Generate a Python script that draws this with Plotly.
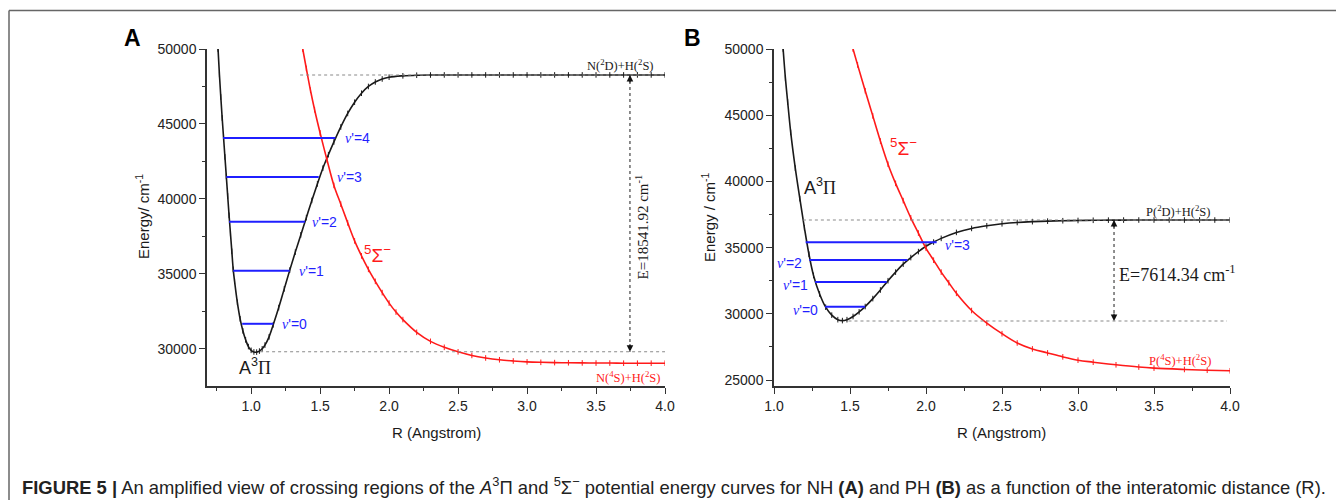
import plotly.graph_objects as go

# ---------------- Panel A (NH) ----------------
A_R_pi = [0.76, 0.77, 0.78, 0.79, 0.80, 0.81, 0.82, 0.83, 0.84, 0.85, 0.86, 0.87, 0.88, 0.90, 0.92,
          0.94, 0.96, 0.98, 1.00, 1.02, 1.04, 1.06, 1.08, 1.10, 1.13, 1.16, 1.20, 1.24, 1.28, 1.32,
          1.36, 1.40, 1.44, 1.48, 1.52, 1.56, 1.60, 1.65, 1.70, 1.75, 1.80, 1.85, 1.90, 1.95, 2.00,
          2.10, 2.20, 2.30, 2.40, 2.50, 2.60, 2.70, 2.80, 2.90, 3.00, 3.10, 3.20, 3.30, 3.40, 3.50,
          3.60, 3.70, 3.80, 3.90, 4.00]
A_E_pi = [50000, 48300, 46800, 45400, 44100, 42800, 41500, 40200, 38900, 37700, 36500, 35300, 34500, 33100, 32000,
          31200, 30600, 30150, 29900, 29790, 29780, 29850, 30000, 30250, 30800, 31600, 32750, 34000, 35250, 36450,
          37600, 38750, 39900, 41000, 42050, 42950, 43800, 44800, 45700, 46450, 47050, 47500, 47800, 48000, 48120,
          48210, 48250, 48265, 48270, 48270, 48270, 48270, 48270, 48270, 48270, 48270, 48270, 48270, 48270, 48270,
          48270, 48270, 48270, 48270, 48270]
A_R_sig = [1.374, 1.40, 1.43, 1.46, 1.50, 1.55, 1.60, 1.65, 1.70, 1.75, 1.80, 1.85, 1.90, 1.95, 2.00,
           2.05, 2.10, 2.20, 2.30, 2.40, 2.50, 2.60, 2.70, 2.80, 2.90, 3.00, 3.10, 3.20, 3.30, 3.40,
           3.50, 3.60, 3.70, 3.80, 3.90, 4.00]
A_E_sig = [50000, 48700, 47250, 45950, 44400, 42600, 40900, 39650, 38400, 37200, 36200, 35300, 34500, 33750, 33050,
           32450, 31950, 31100, 30500, 30100, 29800, 29560, 29390, 29270, 29190, 29130, 29100, 29080, 29070, 29060,
           29050, 29050, 29040, 29040, 29040, 29040]
A_lev_E = [31670, 35200, 38470, 41467, 44067]
A_lev_Rl = [0.935, 0.87, 0.84, 0.82, 0.797]
A_lev_Rr = [1.16, 1.28, 1.39, 1.49, 1.61]
A_lev_labels = ["0", "1", "2", "3", "4"]
A_top = 48267
A_bottom = 29800
A_De_text = "E=18541.92 cm<sup>-1</sup>"
A_xticks = [1.0, 1.5, 2.0, 2.5, 3.0, 3.5, 4.0]
A_yticks = [30000, 35000, 40000, 45000, 50000]

# ---------------- Panel B (PH) ----------------
B_R_pi = [1.06, 1.075, 1.09, 1.11, 1.14, 1.17, 1.20, 1.23, 1.26, 1.30, 1.34, 1.38, 1.42, 1.45, 1.48,
          1.52, 1.56, 1.60, 1.65, 1.70, 1.75, 1.80, 1.85, 1.90, 1.95, 2.00, 2.05, 2.10, 2.20, 2.30,
          2.40, 2.50, 2.60, 2.70, 2.80, 2.90, 3.00, 3.10, 3.20, 3.30, 3.40, 3.50, 3.60, 3.70, 3.80,
          3.90, 4.00]
B_E_pi = [50000, 47800, 46000, 43700, 41000, 38700, 36500, 34500, 32900, 31500, 30500, 29900, 29560, 29490, 29560,
          29800, 30150, 30550, 31150, 31800, 32500, 33150, 33750, 34250, 34700, 35100, 35420, 35700, 36150, 36450,
          36650, 36800, 36900, 36960, 37000, 37030, 37050, 37065, 37075, 37080, 37085, 37085, 37085, 37085, 37085,
          37085, 37085]
B_R_sig = [1.52, 1.55, 1.60, 1.65, 1.70, 1.75, 1.80, 1.85, 1.90, 1.95, 2.00, 2.05, 2.10, 2.15, 2.20,
           2.30, 2.40, 2.50, 2.60, 2.70, 2.80, 2.90, 3.00, 3.10, 3.25, 3.40, 3.50, 3.70, 3.85, 4.00]
B_E_sig = [50000, 48800, 46850, 44950, 43050, 41300, 39850, 38550, 37250, 36100, 34950, 34050, 33150, 32350, 31550,
           30250, 29300, 28500, 27800, 27350, 27050, 26750, 26500, 26350, 26150, 25980, 25900, 25800, 25740, 25700]
B_lev_E = [30540, 32400, 34060, 35400]
B_lev_Rl = [1.336, 1.27, 1.232, 1.208]
B_lev_Rr = [1.599, 1.741, 1.877, 2.07]
B_lev_labels = ["0", "1", "2", "3"]
B_top = 37085
B_bottom = 29456
B_De_text = "E=7614.34 cm<sup>-1</sup>"
B_xticks = [1.0, 1.5, 2.0, 2.5, 3.0, 3.5, 4.0]
B_yticks = [25000, 30000, 35000, 40000, 45000, 50000]

CAPTION = ("<b>FIGURE 5 |</b> An amplified view of crossing regions of the <i>A</i><sup>3</sup>Π and "
           "<sup>5</sup>Σ<sup>−</sup> potential energy curves for NH <b>(A)</b> and PH <b>(B)</b> "
           "as a function of the interatomic distance (R).")

# ---------------- geometry helpers ----------------
OFF = 8
W, H = 1344 - OFF, 500 - OFF


def fx(px):
    return (px - OFF) / W


def fy(py):
    return 1 - (py - OFF) / H


SANS = "Liberation Sans, Arial, sans-serif"
SERIF = "Liberation Serif, Times New Roman, serif"
BLACK = "#1a1a1a"
RED = "#ff1a1a"
BLUE = "#1f1fff"

fig = go.Figure()

curve_marker = dict(symbol="line-ns-open", size=4, line=dict(width=1))


def add_curve(R, E, color, xa, ya):
    fig.add_trace(go.Scatter(x=R, y=E, mode="lines+markers", line=dict(color=color, width=1.6, shape="spline"),
                             marker=dict(color=color, **curve_marker), xaxis=xa, yaxis=ya,
                             showlegend=False, hoverinfo="skip"))


add_curve(A_R_pi, A_E_pi, BLACK, "x", "y")
add_curve(A_R_sig, A_E_sig, RED, "x", "y")
add_curve(B_R_pi, B_E_pi, BLACK, "x2", "y2")
add_curve(B_R_sig, B_E_sig, RED, "x2", "y2")

for E, rl, rr in zip(A_lev_E, A_lev_Rl, A_lev_Rr):
    fig.add_trace(go.Scatter(x=[rl, rr], y=[E, E], mode="lines", line=dict(color=BLUE, width=2),
                             xaxis="x", yaxis="y", showlegend=False, hoverinfo="skip"))
for E, rl, rr in zip(B_lev_E, B_lev_Rl, B_lev_Rr):
    fig.add_trace(go.Scatter(x=[rl, rr], y=[E, E], mode="lines", line=dict(color=BLUE, width=2),
                             xaxis="x2", yaxis="y2", showlegend=False, hoverinfo="skip"))

shapes = []
annots = []
dot = dict(color="#8a8a8a", width=1.1, dash="dot")

# dashed reference lines
shapes.append(dict(type="line", xref="x", yref="y", x0=1.355, x1=4.0, y0=A_top, y1=A_top, line=dot))
shapes.append(dict(type="line", xref="x", yref="y", x0=1.065, x1=4.0, y0=A_bottom, y1=A_bottom, line=dot))
shapes.append(dict(type="line", xref="x2", yref="y2", x0=1.19, x1=4.0, y0=B_top, y1=B_top, line=dot))
shapes.append(dict(type="line", xref="x2", yref="y2", x0=1.49, x1=3.98, y0=B_bottom, y1=B_bottom, line=dot))

# arrows (dotted shaft + heads)
arrow_shaft = dict(color="#333", width=1.1, dash="dot")
for xr, yr, xa, top, bot in [("x", "y", 3.746, A_top, A_bottom), ("x2", "y2", 3.237, B_top, B_bottom)]:
    shapes.append(dict(type="line", xref=xr, yref=yr, x0=xa, x1=xa, y0=top, y1=bot, line=arrow_shaft))
    annots.append(dict(xref=xr, yref=yr, x=xa, y=top, ax=0, ay=9, text="", showarrow=True,
                       arrowhead=2, arrowsize=1.1, arrowwidth=1.2, arrowcolor="#111"))
    annots.append(dict(xref=xr, yref=yr, x=xa, y=bot, ax=0, ay=-9, text="", showarrow=True,
                       arrowhead=2, arrowsize=1.1, arrowwidth=1.2, arrowcolor="#111"))

# outer frame (top + left)
shapes.append(dict(type="line", xref="paper", yref="paper", x0=fx(9), x1=1.02, y0=fy(10.5), y1=fy(10.5),
                   line=dict(color="#666", width=1.5)))
shapes.append(dict(type="line", xref="paper", yref="paper", x0=fx(9), x1=fx(9), y0=fy(10.5), y1=-0.05,
                   line=dict(color="#666", width=1.5)))

nu = "<span style='font-family:Liberation Serif'><i>ν</i></span>'="

# vibrational level labels
for E, rr, lab, xs in zip(A_lev_E, A_lev_Rr, A_lev_labels, [7, 7, 5, 16, 8]):
    annots.append(dict(xref="x", yref="y", x=rr, y=E, xshift=xs, xanchor="left", yanchor="middle",
                       text=nu + lab, showarrow=False, font=dict(family=SANS, size=14, color=BLUE)))
for i, (E, rl, rr, lab) in enumerate(zip(B_lev_E, B_lev_Rl, B_lev_Rr, B_lev_labels)):
    if i < 3:
        annots.append(dict(xref="x2", yref="y2", x=rl, y=E, xshift=-5, yshift=-3, xanchor="right",
                           yanchor="middle", text=nu + lab, showarrow=False,
                           font=dict(family=SANS, size=14, color=BLUE)))
    else:
        annots.append(dict(xref="x2", yref="y2", x=rr, y=E, xshift=6, yshift=-3, xanchor="left",
                           yanchor="middle", text=nu + lab, showarrow=False,
                           font=dict(family=SANS, size=14, color=BLUE)))

PI = "<span style='font-family:Liberation Serif'>Π</span>"
SIG = "<sup>5</sup>Σ<sup>−</sup>"


def note(**kw):
    kw.setdefault("xanchor", "center")
    kw.setdefault("yanchor", "middle")
    kw.setdefault("showarrow", False)
    return kw


# state labels
annots += [
    note(xref="x", yref="y", x=1.03, y=28800, text="A<sup>3</sup>" + PI,
         font=dict(family=SANS, size=18, color=BLACK)),
    note(xref="x", yref="y", x=1.913, y=36300, text=SIG, font=dict(family=SANS, size=19, color=RED)),
    note(xref="x2", yref="y2", x=1.30, y=39580, text="A<sup>3</sup>" + PI,
         font=dict(family=SANS, size=18, color=BLACK)),
    note(xref="x2", yref="y2", x=1.855, y=42600, text=SIG, font=dict(family=SANS, size=19, color=RED)),
    # asymptote labels
    note(xref="x", yref="y", x=3.68, y=48950, text="N(<sup>2</sup>D)+H(<sup>2</sup>S)",
         font=dict(family=SERIF, size=12.5, color=BLACK)),
    note(xref="x", yref="y", x=3.73, y=28150, text="N(<sup>4</sup>S)+H(<sup>2</sup>S)",
         font=dict(family=SERIF, size=12.5, color=RED)),
    note(xref="x2", yref="y2", x=3.658, y=37750, text="P(<sup>2</sup>D)+H(<sup>2</sup>S)",
         font=dict(family=SERIF, size=12.5, color=BLACK)),
    note(xref="x2", yref="y2", x=3.67, y=26550, text="P(<sup>4</sup>S)+H(<sup>2</sup>S)",
         font=dict(family=SERIF, size=12.5, color=RED)),
    # dissociation energies
    note(xref="x", yref="y", x=3.83, y=38133, text=A_De_text, textangle=-90,
         font=dict(family=SERIF, size=15, color=BLACK)),
    note(xref="x2", yref="y2", x=3.257, y=33080, xanchor="left", text=B_De_text,
         font=dict(family=SERIF, size=18, color=BLACK)),
    # panel letters
    note(xref="paper", yref="paper", x=fx(132), y=fy(38), text="<b>A</b>",
         font=dict(family=SANS, size=23, color="black")),
    note(xref="paper", yref="paper", x=fx(692), y=fy(38), text="<b>B</b>",
         font=dict(family=SANS, size=23, color="black")),
    # axis titles
    note(xref="paper", yref="paper", x=fx(142), y=fy(217), text="Energy/ cm<sup>-1</sup>", textangle=-90,
         font=dict(family=SANS, size=15, color=BLACK)),
    note(xref="paper", yref="paper", x=fx(708), y=fy(217), text="Energy / cm<sup>-1</sup>", textangle=-90,
         font=dict(family=SANS, size=15, color=BLACK)),
    note(xref="paper", yref="paper", x=fx(436), y=fy(432), text="R (Angstrom)",
         font=dict(family=SANS, size=15, color=BLACK)),
    note(xref="paper", yref="paper", x=fx(1002), y=fy(432), text="R (Angstrom)",
         font=dict(family=SANS, size=15, color=BLACK)),
    # caption
    note(xref="paper", yref="paper", x=fx(20), y=fy(486), xanchor="left", text=CAPTION,
         font=dict(family=SANS, size=18.4, color="#222")),
]

axis_common = dict(showline=True, linecolor="#333", linewidth=1.5, ticks="outside", ticklen=6, tickwidth=1.3,
                   tickcolor="#333", showgrid=False, zeroline=False, mirror=False, automargin=False,
                   tickfont=dict(family=SANS, size=14, color="#222"))

fig.update_layout(
    width=W, height=H, margin=dict(l=0, r=0, t=0, b=0, pad=0, autoexpand=False), autosize=False,
    paper_bgcolor="white", plot_bgcolor="white",
    xaxis=dict(domain=[fx(207), fx(665)], range=[0.68, 4.0], tickvals=A_xticks, tickformat=".1f",
               minor=dict(ticks="outside", ticklen=3, dtick=0.25, tick0=0, tickcolor="#333"),
               anchor="y", **axis_common),
    yaxis=dict(domain=[fy(386), fy(49)], range=[27520, 50000], tickvals=A_yticks, tickformat="d",
               minor=dict(ticks="outside", ticklen=3, dtick=2500, tick0=0, tickcolor="#333"),
               anchor="x", **axis_common),
    xaxis2=dict(domain=[fx(774), fx(1230)], range=[1.0, 4.0], tickvals=B_xticks, tickformat=".1f",
                minor=dict(ticks="outside", ticklen=3, dtick=0.25, tick0=0, tickcolor="#333"),
                anchor="y2", **axis_common),
    yaxis2=dict(domain=[fy(386), fy(49)], range=[24550, 50000], tickvals=B_yticks, tickformat="d",
                minor=dict(ticks="outside", ticklen=3, dtick=2500, tick0=0, tickcolor="#333"),
                anchor="x2", **axis_common),
    shapes=shapes, annotations=annots,
)

fig.write_html("out.html")
